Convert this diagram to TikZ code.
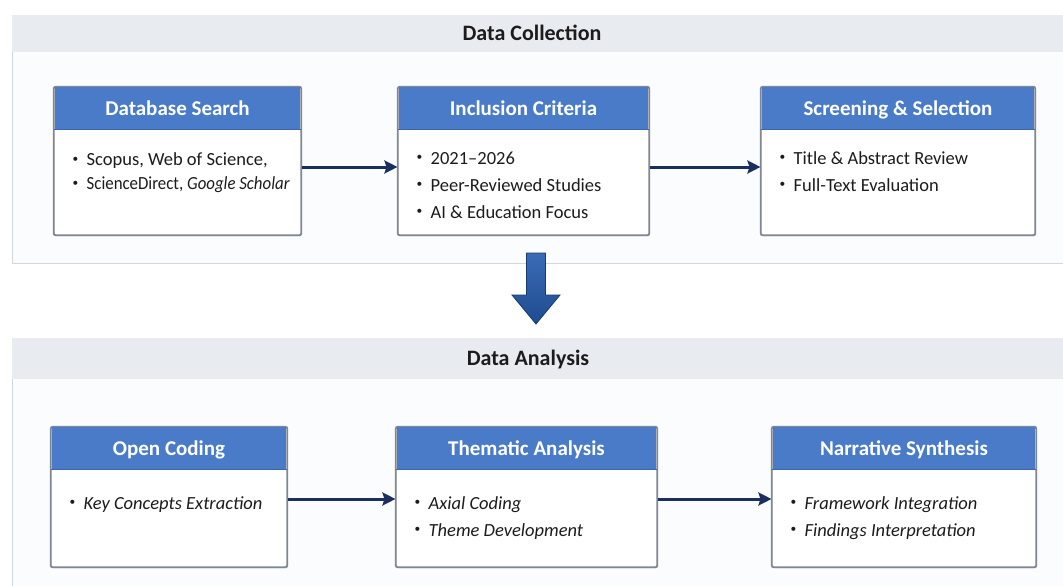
\documentclass[tikz,border=0pt]{standalone}
\usepackage{fontspec}
\setmainfont{Carlito}
\usetikzlibrary{arrows.meta,calc,shadows}
\definecolor{hdrblue}{HTML}{4A7BC9}
\definecolor{hdrdark}{HTML}{3A66AE}
\definecolor{boxline}{HTML}{7E8793}
\definecolor{bandgray}{HTML}{E8ECF1}
\definecolor{panelfill}{HTML}{FBFCFD}
\definecolor{panelline}{HTML}{D3D7DC}
\definecolor{navy}{HTML}{1B2F5E}
\definecolor{bigtop}{HTML}{3A6BB5}
\definecolor{bigbot}{HTML}{1F4C90}
\definecolor{bigline}{HTML}{183A72}
\definecolor{txt}{HTML}{1C1C1C}
\newcommand{\itm}{\strut\raisebox{0.18em}{\scalebox{0.62}{•}}\hspace{0.45em}}
\tikzset{
  box/.style={draw=boxline, line width=1.1pt, fill=white, rounded corners=2pt, inner sep=0pt,
    drop shadow={opacity=0.12, shadow xshift=1pt, shadow yshift=-1.5pt}},
  hdr/.style={fill=hdrblue, inner sep=0pt, minimum height=42pt, text=white,
    text height=13.5pt, text depth=0pt,
    font=\fontsize{21}{24}\selectfont\bfseries},
  items/.style={inner sep=0pt, align=left, text=txt, font=\fontsize{18.5}{27}\selectfont},
  bandtitle/.style={inner sep=0pt, text=txt, text height=14pt, text depth=0pt,
    font=\fontsize{22}{25}\selectfont\bfseries},
  flow/.style={draw=navy, line width=3pt, -{Stealth[length=13pt,width=13pt,inset=2pt]}},
}
\newcommand{\stagebox}[8]{%
  \node[box, minimum width=#4, minimum height=#5] (#1) at (#2,#3) {};
  \node[hdr, minimum width=#4-1.2pt, anchor=north] (#1h) at ([yshift=-0.6pt]#1.north) {#6};
  \draw[hdrdark, line width=1pt] (#1h.south west) -- (#1h.south east);
  \draw[boxline, line width=1.1pt, rounded corners=2pt] (#1.north west) rectangle (#1.south east);
  \node[items, anchor=north west] (#1t) at ([xshift=19pt,yshift=#8]#1.north west) {#7};
}
\begin{document}
\begin{tikzpicture}[x=1pt,y=-1pt]
\useasboundingbox (0,0) rectangle (1063,586);
\clip (0,0) rectangle (1063,586);
\fill[white] (0,0) rectangle (1063,586);
% top panel
\draw[panelline, fill=panelfill, line width=0.8pt] (12,15) rectangle (1080,263);
\fill[bandgray] (12,15) rectangle (1080,52);
\node[bandtitle] (t1) at (532,34) {Data Collection};
% bottom panel
\draw[panelline, fill=panelfill, line width=0.8pt] (12,338) rectangle (1080,600);
\fill[bandgray] (12,338) rectangle (1080,379);
\node[bandtitle] (t2) at (528,358) {Data Analysis};
% top row
\stagebox{b1}{177.5}{161}{247pt}{148pt}{Database Search}{\itm Scopus, Web of Science,\\[-3pt]\itm \scalebox{0.91}[1]{ScienceDirect, \textit{Google Scholar}}}{-60pt}
\stagebox{b2}{523.5}{161}{251pt}{148pt}{Inclusion Criteria}{\itm 2021–2026\\\itm Peer-Reviewed Studies\\\itm AI \& Education Focus}{-58.5pt}
\stagebox{b3}{898}{161}{274pt}{148pt}{Screening \& Selection}{\itm Title \& Abstract Review\\\itm Full-Text Evaluation}{-58.5pt}
% bottom row
\stagebox{b4}{169}{497}{236pt}{140pt}{Open Coding}{\itm \textit{Key Concepts Extraction}}{-63.5pt}
\stagebox{b5}{526.5}{497}{261pt}{140pt}{Thematic Analysis}{\itm \textit{Axial Coding}\\\itm \textit{Theme Development}}{-63.5pt}
\stagebox{b6}{904}{497}{264pt}{140pt}{Narrative Synthesis}{\itm \textit{Framework Integration}\\\itm \textit{Findings Interpretation}}{-63.5pt}
% arrows
\draw[flow] ([yshift=-6pt]b1.east) -- ([yshift=-6pt]b2.west);
\draw[flow] ([yshift=-6pt]b2.east) -- ([yshift=-6pt]b3.west);
\draw[flow] ([yshift=-2pt]b4.east) -- ([yshift=-2pt]b5.west);
\draw[flow] ([yshift=-2pt]b5.east) -- ([yshift=-2pt]b6.west);
% big arrow between panels
\coordinate (bigstart) at (536,253);
\coordinate (bigtip) at (536,324);
\shade[top color=bigtop, bottom color=bigbot, draw=bigline, line width=0.8pt]
  ([xshift=-9.5pt]bigstart) -- ([xshift=9.5pt]bigstart) -- ([xshift=9.5pt,yshift=29pt]bigtip)
  -- ([xshift=24pt,yshift=29pt]bigtip) -- (bigtip) -- ([xshift=-24pt,yshift=29pt]bigtip)
  -- ([xshift=-9.5pt,yshift=29pt]bigtip) -- cycle;
\end{tikzpicture}
\end{document}
